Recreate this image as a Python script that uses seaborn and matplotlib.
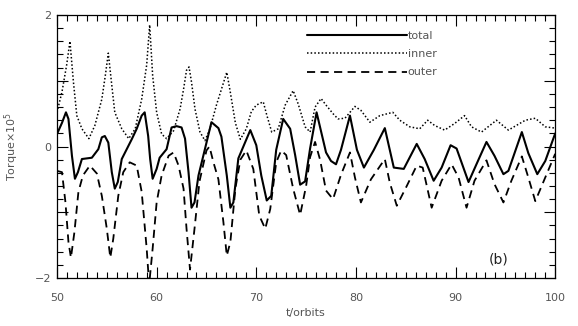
import seaborn as sns
import matplotlib.pyplot as plt
from matplotlib.ticker import MultipleLocator
import pandas as pd
import numpy as np

# Torque series (t in orbits, torque x 1e5)
total_t = [50.0, 50.5, 50.9, 51.15, 51.5, 51.8, 52.1, 52.5, 53.5, 54.15, 54.5, 54.8, 55.15, 55.5,
           55.8, 56.1, 56.5, 57.0, 57.5, 58.0, 58.5, 58.8, 59.15, 59.35, 59.6, 60.0, 60.3, 61.0,
           61.5, 62.0, 62.5, 62.85, 63.2, 63.5, 63.8, 64.2, 64.7, 65.5, 66.2, 66.5, 67.04, 67.4,
           67.7, 68.2, 69.4, 70.0, 70.5, 71.05, 71.5, 72.0, 72.7, 73.4, 73.9, 74.4, 74.9, 75.4,
           76.05, 77.0, 77.5, 78.0, 78.5, 79.4, 80.1, 80.8, 81.8, 82.9, 83.8, 84.8, 86.1, 86.9,
           87.8, 88.6, 89.5, 90.1, 91.3, 92.3, 93.1, 93.9, 94.8, 95.3, 96.65, 97.3, 98.2, 99.0,
           100.0]
total_y = [0.19, 0.36, 0.52, 0.42, -0.14, -0.49, -0.39, -0.19, -0.17, -0.04, 0.14, 0.16, 0.06, -0.39,
           -0.64, -0.54, -0.19, -0.04, 0.11, 0.27, 0.47, 0.52, 0.16, -0.19, -0.49, -0.34, -0.17, -0.04,
           0.29, 0.31, 0.29, 0.12, -0.39, -0.93, -0.85, -0.44, -0.13, 0.37, 0.28, 0.15, -0.44, -0.93,
           -0.85, -0.18, 0.25, 0.02, -0.44, -0.82, -0.75, -0.05, 0.42, 0.27, -0.13, -0.58, -0.53, -0.03,
           0.52, -0.09, -0.22, -0.27, -0.05, 0.47, -0.05, -0.32, -0.05, 0.28, -0.32, -0.34, 0.04, -0.19,
           -0.52, -0.32, 0.02, -0.03, -0.54, -0.2, 0.07, -0.14, -0.42, -0.37, 0.22, -0.1, -0.42, -0.22,
           0.2]

inner_t = [50.0, 50.5, 50.97, 51.3, 51.65, 51.99, 52.5, 53.2, 53.8, 54.5, 54.85, 55.15, 55.5, 55.8,
           56.5, 57.2, 57.85, 58.5, 59.0, 59.3, 59.6, 60.0, 60.5, 61.0, 61.7, 62.35, 62.7, 63.0,
           63.25, 63.5, 63.85, 64.35, 64.85, 65.35, 66.0, 66.5, 67.04, 67.4, 67.9, 68.4, 69.0, 69.5,
           70.0, 70.7, 71.05, 71.55, 72.2, 72.9, 73.7, 74.2, 74.9, 75.4, 75.9, 76.5, 77.0, 77.7,
           78.2, 78.9, 79.9, 80.5, 81.4, 82.4, 83.7, 84.4, 85.4, 86.4, 87.2, 87.9, 88.9, 89.9,
           90.9, 91.6, 92.6, 94.1, 95.3, 97.0, 98.0, 99.0, 100.0]
inner_y = [0.52, 0.83, 1.24, 1.6, 0.98, 0.47, 0.27, 0.12, 0.32, 0.72, 1.08, 1.42, 0.93, 0.52,
           0.27, 0.12, 0.27, 0.72, 1.24, 1.85, 1.08, 0.52, 0.19, 0.12, 0.24, 0.57, 0.87, 1.16,
           1.21, 0.98, 0.57, 0.22, 0.09, 0.27, 0.63, 0.87, 1.13, 0.82, 0.36, 0.11, 0.27, 0.53,
           0.63, 0.68, 0.48, 0.22, 0.27, 0.63, 0.85, 0.65, 0.3, 0.22, 0.6, 0.73, 0.63, 0.5,
           0.42, 0.43, 0.61, 0.55, 0.37, 0.47, 0.52, 0.4, 0.3, 0.27, 0.4, 0.32, 0.25, 0.35,
           0.47, 0.3, 0.22, 0.4, 0.25, 0.4, 0.43, 0.3, 0.28]

outer_t = [50.0, 50.5, 50.85, 51.15, 51.4, 51.75, 52.15, 52.6, 53.3, 54.0, 54.5, 55.0, 55.35, 55.65,
           56.15, 56.65, 57.3, 58.0, 58.5, 59.0, 59.25, 59.6, 60.0, 60.5, 61.2, 61.7, 62.2, 62.7,
           63.0, 63.35, 63.8, 64.3, 65.0, 65.3, 65.7, 66.2, 66.7, 67.04, 67.4, 67.9, 68.4, 69.0,
           69.7, 70.3, 70.9, 71.4, 72.0, 72.5, 73.0, 73.7, 74.4, 75.0, 75.4, 75.9, 76.4, 77.0,
           77.7, 78.5, 79.4, 79.9, 80.5, 81.5, 82.9, 83.4, 84.1, 85.1, 86.1, 86.7, 87.6, 88.6,
           89.6, 90.3, 91.1, 91.9, 93.1, 93.9, 94.8, 95.6, 96.65, 97.3, 98.0, 99.0, 100.0]
outer_y = [-0.37, -0.39, -0.85, -1.45, -1.69, -1.3, -0.69, -0.44, -0.29, -0.41, -0.75, -1.25, -1.69, -1.4,
           -0.75, -0.39, -0.24, -0.29, -0.69, -1.55, -2.1, -1.55, -0.85, -0.44, -0.14, -0.09, -0.29, -0.64,
           -1.25, -1.87, -1.25, -0.53, -0.06, 0.0, -0.24, -0.5, -1.15, -1.66, -1.45, -0.64, -0.2, -0.06,
           -0.34, -1.05, -1.25, -0.95, -0.24, -0.06, -0.13, -0.64, -1.04, -0.6, -0.16, 0.07, -0.2, -0.67,
           -0.8, -0.43, -0.09, -0.47, -0.85, -0.5, -0.19, -0.55, -0.9, -0.6, -0.29, -0.32, -0.93, -0.52,
           -0.27, -0.47, -0.93, -0.52, -0.21, -0.57, -0.85, -0.52, -0.15, -0.47, -0.83, -0.47, -0.11]

y_ticks = [-2, -1, 0, 1, 2]
y_ticklabels = ["\u22122", "", "0", "", "2"]
x_ticks = [50, 60, 70, 80, 90, 100]

sns.set_style("ticks")
plt.rcParams["font.family"] = ["DejaVu Sans"]
txt = "#555555"

fig = plt.figure(figsize=(5.78, 3.26), dpi=100)
ax = fig.add_axes([0.0986, 0.147, 0.862, 0.807])

sns.lineplot(x=total_t, y=total_y, ax=ax, color="black", lw=1.5, sort=False,
             estimator=None, label="total")
sns.lineplot(x=inner_t, y=inner_y, ax=ax, color="black", lw=1.1, sort=False,
             estimator=None, label="inner", linestyle=(0, (1, 1.4)))
sns.lineplot(x=outer_t, y=outer_y, ax=ax, color="black", lw=1.3, sort=False,
             estimator=None, label="outer", linestyle=(0, (4.5, 3)))

ax.set_xlim(50, 100)
ax.set_ylim(-2, 2)
ax.set_xticks(x_ticks)
ax.set_yticks(y_ticks)
ax.set_yticklabels(y_ticklabels)
ax.xaxis.set_minor_locator(MultipleLocator(1))
ax.yaxis.set_minor_locator(MultipleLocator(0.2))
ax.tick_params(which="both", direction="in", top=True, right=True, width=0.8,
               colors="black", labelcolor=txt, labelsize=8)
ax.tick_params(which="major", length=8)
ax.tick_params(which="minor", length=4)
ax.tick_params(axis="x", which="major", pad=11)
ax.tick_params(axis="y", which="major", pad=4)
for s in ax.spines.values():
    s.set_linewidth(0.9)
    s.set_color("black")

ax.set_xlabel("t/orbits", color=txt, fontsize=8, labelpad=3)
ax.set_ylabel("Torque\u00d710$^5$", color=txt, fontsize=8, labelpad=10)

leg = ax.legend(loc="upper left", bbox_to_anchor=(0.481, 0.978), frameon=False,
                handlelength=9.0, handletextpad=0.1, labelspacing=0.75, fontsize=8)
for t in leg.get_texts():
    t.set_color(txt)

ax.text(94.3, -1.72, "(b)", fontsize=10, color="#222222", ha="center", va="center")

fig.savefig("out.png", dpi=100)
